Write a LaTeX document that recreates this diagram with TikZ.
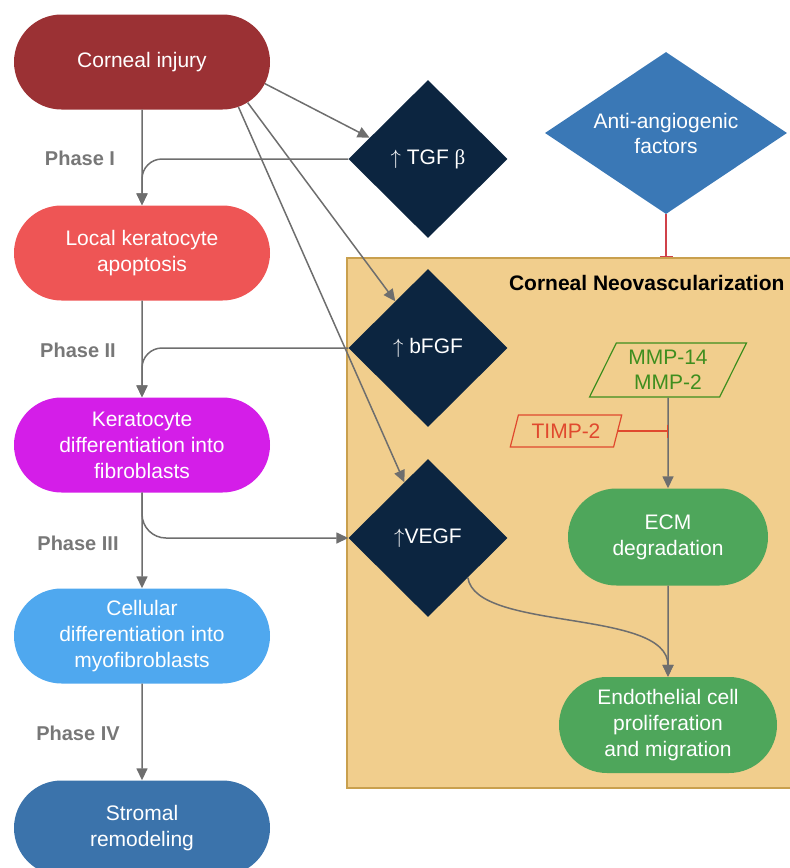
\documentclass[tikz,border=0pt]{standalone}
\usepackage{fontspec}
\setmainfont{Liberation Sans}
\newfontfamily\greekfont{Liberation Serif}
\usetikzlibrary{shapes.geometric,shapes.misc,arrows.meta}
\definecolor{injury}{HTML}{9B3134}
\definecolor{apopt}{HTML}{EE5555}
\definecolor{fibro}{HTML}{D41EE8}
\definecolor{myofib}{HTML}{4FA8EF}
\definecolor{stroma}{HTML}{3B73AB}
\definecolor{navy}{HTML}{0C2540}
\definecolor{antiblue}{HTML}{3A78B6}
\definecolor{boxfill}{HTML}{F1CE8D}
\definecolor{boxedge}{HTML}{C9A04E}
\definecolor{ecmgreen}{HTML}{4EA65B}
\definecolor{mmpgreen}{HTML}{3E8E1E}
\definecolor{timpred}{HTML}{E0492E}
\definecolor{antired}{HTML}{D0414A}
\definecolor{linegrey}{HTML}{6E6E6E}
\definecolor{phasegrey}{HTML}{777777}

\begin{document}
\begin{tikzpicture}[x=1pt,y=1pt]
\tikzset{
    pill/.style={rounded rectangle,minimum width=260pt,minimum height=95pt,
        inner sep=2pt,align=center,text=white,font=\fontsize{21}{26}\selectfont},
    gem/.style={diamond,fill=navy,minimum width=159pt,minimum height=158pt,
        inner sep=0pt,align=center,text=white,font=\fontsize{21}{25}\selectfont},
    phase/.style={text=phasegrey,font=\bfseries\fontsize{20}{24}\selectfont},
    slant/.style={trapezium,trapezium stretches=true,line width=1.2pt,
        inner sep=1pt,align=center,font=\fontsize{21}{25}\selectfont},
    arr/.style={draw=linegrey,line width=1.5pt,-{Triangle[length=12pt,width=11pt]}},
    block/.style={line width=1.5pt,-{Bar[width=13pt]}}
}
\clip (0,0) rectangle (790,-868);
\node (cnv) [draw=boxedge,fill=boxfill,line width=1.5pt,inner sep=0pt,
    minimum width=453pt,minimum height=530pt] at (573.5,-523) {};
\node (cnvtitle) [anchor=east,font=\bfseries\fontsize{21}{24}\selectfont]
    at (788,-283) {Corneal Neovascularization};

\node (inj) [pill,fill=injury] at (142,-62) {Corneal injury};
\node (loc) [pill,fill=apopt] at (142,-253) {Local keratocyte\\apoptosis};
\node (ker) [pill,fill=fibro] at (142,-445) {Keratocyte\\differentiation into\\fibroblasts};
\node (cel) [pill,fill=myofib] at (142,-636) {Cellular\\differentiation into\\myofibroblasts};
\node (str) [pill,fill=stroma] at (142,-828) {Stromal\\remodeling};

\node (ph1) [phase] at (80,-158) {Phase I};
\node (ph2) [phase] at (78,-350) {Phase II};
\node (ph3) [phase] at (78,-543) {Phase III};
\node (ph4) [phase] at (78,-733) {Phase IV};

\node (tgf) [gem] at (428,-159) {$\uparrow$ TGF {\greekfont β}};
\node (bfgf) [gem] at (428,-348) {$\uparrow$ bFGF};
\node (vegf) [gem] at (428,-538) {$\uparrow$VEGF};
\node (anti) [gem,fill=antiblue,aspect=1.5,minimum width=242pt,minimum height=162pt]
    at (666,-133) {Anti-angiogenic\\factors};

\node (mmp) [slant,draw=mmpgreen,text=mmpgreen,trapezium left angle=63,
    trapezium right angle=117,minimum width=157pt,minimum height=54pt]
    at (668,-370) {MMP-14\\MMP-2};
\node (timp) [slant,draw=timpred,text=timpred,trapezium left angle=70,
    trapezium right angle=110,minimum width=112pt,minimum height=32pt]
    at (566,-431) {TIMP-2};
\node (ecm) [pill,fill=ecmgreen,minimum width=204pt,minimum height=97pt]
    at (668,-537) {ECM\\degradation};
\node (endo) [pill,fill=ecmgreen,minimum width=222pt,minimum height=96pt]
    at (668,-725) {Endothelial cell\\proliferation\\and migration};

\draw[arr] (inj) -- (loc);
\draw[arr] (loc) -- (ker);
\draw[arr] (ker) -- (cel);
\draw[arr] (cel) -- (str);
\draw[arr] (inj.-10) -- (tgf.160);
\draw[arr] (inj.-21) -- (bfgf.125);
\draw[arr] (inj.-25) -- (vegf.113);
\draw[arr,rounded corners=20pt] (tgf.west) -| (loc.north);
\draw[arr,rounded corners=20pt] (bfgf.west) -| (ker.north);
\draw[arr,rounded corners=24pt] (ker.south) |- (vegf.west);
\draw[arr] (mmp) -- (ecm);
\draw[arr] (ecm) -- (endo);
\draw[arr] (vegf.south east) .. controls (476,-632) and (668,-608) .. (endo.north);
\draw[block,draw=timpred] (timp.east) -- (timp.east -| mmp.south);
\draw[block,draw=antired] (anti.south) -- (anti.south |- cnv.north);
\end{tikzpicture}
\end{document}
